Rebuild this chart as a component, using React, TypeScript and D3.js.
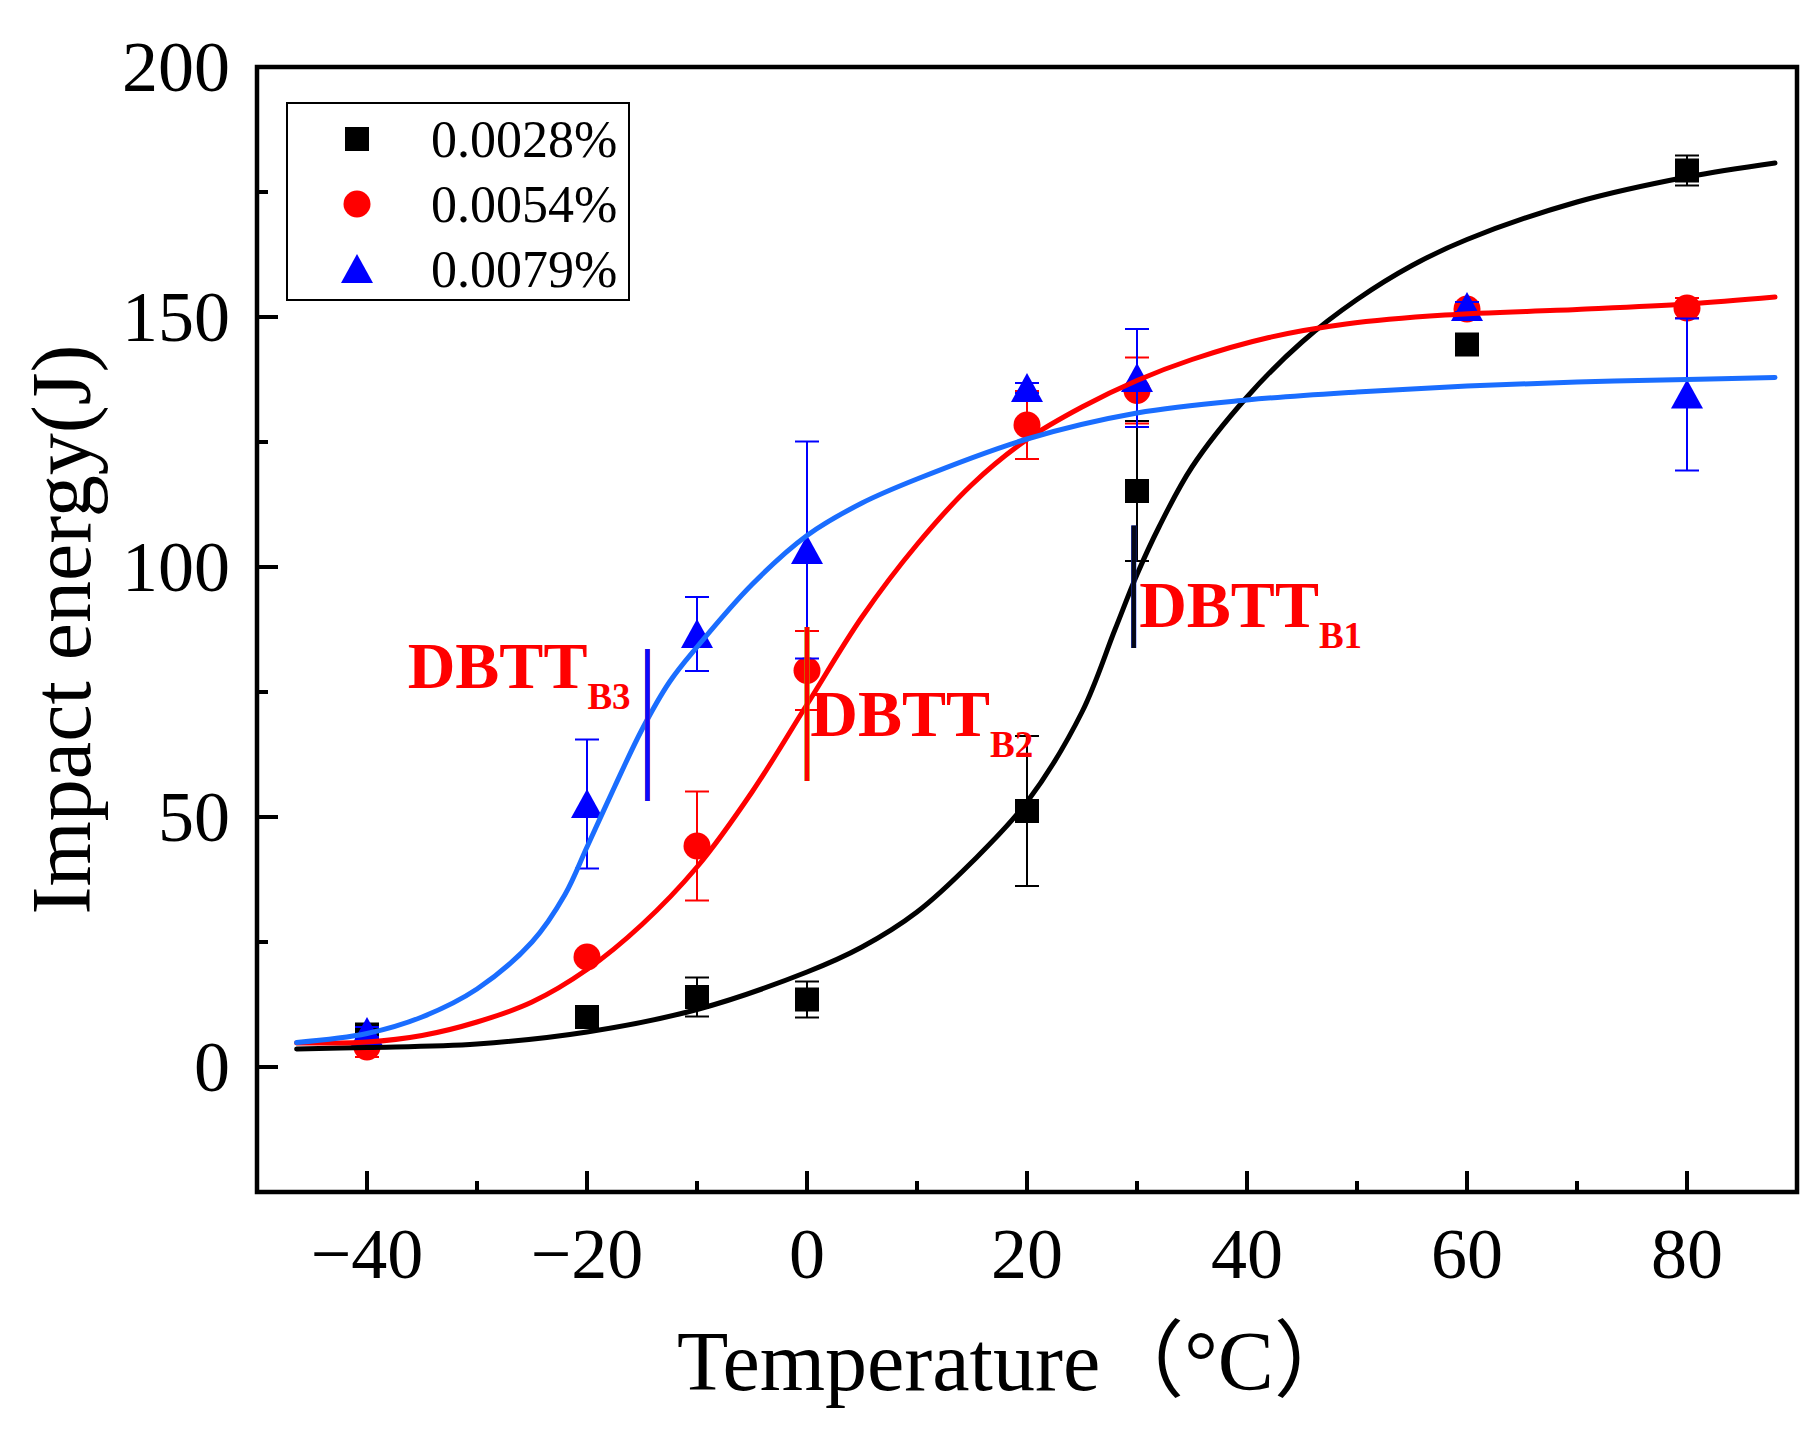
import * as d3 from 'd3';

// measured points (temperature in °C, impact energy in J)
const temps = [-40, -20, -10, 0, 20, 30, 60, 80];
const e28 = [6.5, 10, 14, 13.5, 51.2, 115.2, 144.5, 179.3];
const err28 = [1.2, 1, 3.9, 3.6, 15, 14, 1, 3];
const e54 = [4, 22, 44.2, 79.3, 128.4, 135.3, 151.6, 151.8];
const err54 = [2, 1, 10.9, 7.9, 6.8, 6.6, 1, 2];
const e79 = [7, 52.6, 86.6, 103.4, 135.8, 137.8, 152, 134.5];
const err79 = [1, 12.9, 7.4, 21.7, 1, 9.8, 1, 15.2];

// fitted curves
const fit28: [number, number][] = [
  [-46.4, 3.6], [-40, 3.9], [-30, 4.6], [-20, 7], [-10, 11.5], [0, 19], [5, 24],
  [10, 31], [15, 41], [20, 53], [25, 71], [28, 87.5], [30, 98.5], [32, 108], [35, 120],
  [40, 134], [45, 145], [50, 153.5], [55, 160.3], [60, 165.5], [70, 173], [80, 178], [88, 180.8],
];
const fit54: [number, number][] = [
  [-46.4, 4.8], [-40, 5], [-35, 6.3], [-30, 9], [-25, 13], [-20, 19.5], [-15, 28.5],
  [-10, 40], [-5, 55], [0, 72.5], [5, 90], [10, 104.5], [15, 116.5], [20, 125.5],
  [25, 132], [30, 137.3], [35, 141.5], [42, 145.9], [49, 148.6], [58, 150.4],
  [70, 151.5], [80, 152.6], [88, 154],
];
const fit79: [number, number][] = [
  [-46.4, 4.9], [-40, 6.7], [-35, 10], [-30, 15.6], [-25, 25], [-22, 34.5], [-20, 44],
  [-17.5, 56], [-15, 67.5], [-12.5, 77], [-10, 84], [-5, 96.5], [0, 106.3], [5, 112.8],
  [10, 117.6], [20, 125.6], [30, 130.8], [40, 133.4], [50, 135], [60, 136.2], [70, 137],
  [80, 137.5], [88, 137.9],
];

// DBTT markers: temperature, energy from, energy to
const dbttNames = ['B3', 'B2', 'B1'];
const dbttT = [-14.5, 0, 29.7];
const dbttLo = [53.2, 57.2, 83.8];
const dbttHi = [83.6, 88, 108.3];
const dbttLabelT = [-36.3, 0.3, 30.2];
const dbttLabelE = [75.9, 66.2, 88];

const legendNames = ['0.0028%', '0.0054%', '0.0079%'];

const xMajor = [-40, -20, 0, 20, 40, 60, 80];
const xMajorLabels = ['\u221240', '\u221220', '0', '20', '40', '60', '80'];
const xMinor = [-30, -10, 10, 30, 50, 70];
const yMajor = [0, 50, 100, 150, 200];
const yMinor = [25, 75, 125, 175];

const serif = "'Liberation Serif', 'Times New Roman', serif";
const cjk = "'Noto Sans CJK SC', 'Noto Sans CJK JP', sans-serif";

const W = 1818;
const H = 1433;
const L = 257;
const R = 1797;
const T = 67;
const B = 1192;

const x = d3.scaleLinear().domain([-50, 90]).range([L, R]);
const y = d3.scaleLinear().domain([-25, 200]).range([B, T]);

const line = d3
  .line<[number, number]>()
  .x((d) => x(d[0]))
  .y((d) => y(d[1]))
  .curve(d3.curveCatmullRom.alpha(0.5));

const triangle = 'M0,-15L16,14L-16,14Z';

function Marker({ kind, cx, cy }: { kind: number; cx: number; cy: number }) {
  if (kind === 0) return <rect x={cx - 12} y={cy - 12} width={24} height={24} fill="#000" />;
  if (kind === 1) return <circle cx={cx} cy={cy} r={13.5} fill="#ff0000" />;
  return <path d={triangle} transform={`translate(${cx},${cy})`} fill="#0000ff" />;
}

const series = [
  { vals: e28, errs: err28, color: '#000000' },
  { vals: e54, errs: err54, color: '#ff0000' },
  { vals: e79, errs: err79, color: '#0000ff' },
];
const fits = [
  { pts: fit28, color: '#000000' },
  { pts: fit54, color: '#ff0000' },
  { pts: fit79, color: '#1a6dff' },
];
const dbttStyle = [
  { edge: '#ff5050', core: '#0a0aff' },
  { edge: '#8fd400', core: '#ff0000' },
  { edge: '#1a3cff', core: '#050818' },
];

export default function App() {
  return (
    <div style={{ position: 'absolute', left: 0, top: 0, background: '#fff' }}>
      <svg width={W} height={H} viewBox={`0 0 ${W} ${H}`} style={{ display: 'block' }}>
        <rect width={W} height={H} fill="#fff" />

        {/* error bars and markers */}
        {series.map((s, si) => (
          <g key={si}>
            {temps.map((t, i) => {
              const cx = x(t);
              const y1 = y(s.vals[i] - s.errs[i]);
              const y2 = y(s.vals[i] + s.errs[i]);
              return (
                <g key={i} stroke={s.color} strokeWidth={2}>
                  <line x1={cx} x2={cx} y1={y1} y2={y2} />
                  <line x1={cx - 12} x2={cx + 12} y1={y1} y2={y1} />
                  <line x1={cx - 12} x2={cx + 12} y1={y2} y2={y2} />
                </g>
              );
            })}
            {temps.map((t, i) => (
              <Marker key={'m' + i} kind={si} cx={x(t)} cy={y(s.vals[i])} />
            ))}
          </g>
        ))}

        {/* fitted curves */}
        {fits.map((f, i) => (
          <path key={i} d={line(f.pts) ?? ''} fill="none" stroke={f.color} strokeWidth={5} strokeLinecap="round" />
        ))}

        {/* DBTT markers */}
        {dbttT.map((t, i) => (
          <g key={i}>
            <line x1={x(t)} x2={x(t)} y1={y(dbttLo[i])} y2={y(dbttHi[i])} stroke={dbttStyle[i].edge} strokeWidth={5.2} />
            <line x1={x(t)} x2={x(t)} y1={y(dbttLo[i])} y2={y(dbttHi[i])} stroke={dbttStyle[i].core} strokeWidth={4.5} />
            <text
              x={x(dbttLabelT[i])}
              y={y(dbttLabelE[i])}
              fontFamily={serif}
              fontWeight="bold"
              fontSize={66}
              fill="#ff0000"
            >
              DBTT
              <tspan dy={21} fontSize={37}>
                {dbttNames[i]}
              </tspan>
            </text>
          </g>
        ))}

        {/* frame */}
        <rect x={L} y={T} width={R - L} height={B - T} fill="none" stroke="#000" strokeWidth={4.5} />

        {/* x ticks */}
        {xMajor.map((t, i) => (
          <g key={t}>
            <line x1={x(t)} x2={x(t)} y1={B} y2={B - 21} stroke="#000" strokeWidth={4} />
            <text x={x(t)} y={1278} textAnchor="middle" fontFamily={serif} fontSize={72} fill="#000">
              {xMajorLabels[i]}
            </text>
          </g>
        ))}
        {xMinor.map((t) => (
          <line key={t} x1={x(t)} x2={x(t)} y1={B} y2={B - 11} stroke="#000" strokeWidth={4} />
        ))}

        {/* y ticks */}
        {yMajor.map((v) => (
          <g key={v}>
            <line x1={L} x2={L + 21} y1={y(v)} y2={y(v)} stroke="#000" strokeWidth={4} />
            <text x={230} y={y(v) + 24} textAnchor="end" fontFamily={serif} fontSize={72} fill="#000">
              {v}
            </text>
          </g>
        ))}
        {yMinor.map((v) => (
          <line key={v} x1={L} x2={L + 11} y1={y(v)} y2={y(v)} stroke="#000" strokeWidth={4} />
        ))}

        {/* axis titles */}
        <text x={677} y={1390} fontFamily={serif} fontSize={84} fill="#000">
          Temperature
          <tspan fontFamily={cjk}>（</tspan>
          °C
          <tspan fontFamily={cjk}>）</tspan>
        </text>
        <text
          transform={`translate(90,${(T + B) / 2}) rotate(-90)`}
          textAnchor="middle"
          fontFamily={serif}
          fontSize={84}
          fill="#000"
        >
          Impact energy(J)
        </text>

        {/* legend */}
        <rect x={287} y={103} width={342} height={197} fill="#fff" stroke="#000" strokeWidth={2} />
        {legendNames.map((n, i) => (
          <g key={n}>
            <Marker kind={i} cx={357} cy={139 + i * 65} />
            <text x={431} y={157 + i * 65} fontFamily={serif} fontSize={52} fill="#000">
              {n}
            </text>
          </g>
        ))}
      </svg>
    </div>
  );
}
